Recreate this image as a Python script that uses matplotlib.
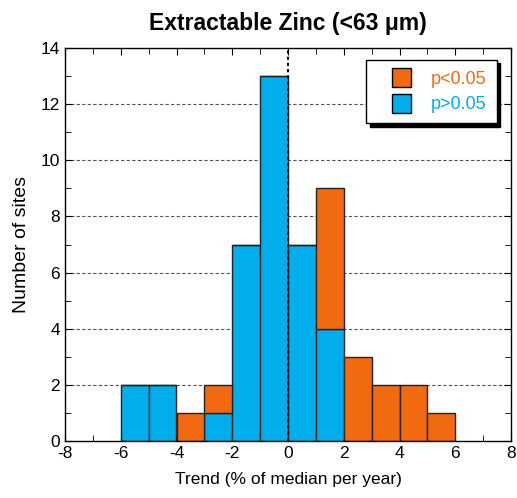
import numpy as np
import matplotlib.pyplot as plt
from matplotlib.ticker import MultipleLocator
from matplotlib.legend_handler import HandlerPatch

# bin edges left side, width 1
bin_left = [-6, -5, -4, -3, -2, -1, 0, 1, 2, 3, 4, 5]
n_notsig = [2, 2, 0, 1, 7, 13, 7, 4, 0, 0, 0, 0]
n_sig = [0, 0, 1, 1, 0, 0, 0, 5, 3, 2, 2, 1]

orange = '#F26A10'
blue = '#00AEEB'

plt.rcParams['font.family'] = ['Liberation Sans', 'DejaVu Sans']
plt.rcParams['axes.unicode_minus'] = False

fig = plt.figure(figsize=(5.17, 4.98), dpi=100)
ax = fig.add_axes([65/517, 1 - 441/498, 446/517, 393/498])

for y in range(2, 14, 2):
    ax.axhline(y, color='#555555', lw=0.8, ls=(0, (3, 2)), zorder=0)

ax.bar(bin_left, n_notsig, width=1, align='edge', color=blue,
       edgecolor='#222222', lw=1, zorder=2)
ax.bar(bin_left, n_sig, width=1, align='edge', bottom=n_notsig, color=orange,
       edgecolor='#222222', lw=1, zorder=2)
ax.axvline(0, color='black', lw=1.5, ls=(0, (1.5, 1.5)), zorder=3)

ax.set_xlim(-8, 8)
ax.set_ylim(0, 14)
ax.xaxis.set_major_locator(MultipleLocator(2))
ax.xaxis.set_minor_locator(MultipleLocator(1))
ax.yaxis.set_major_locator(MultipleLocator(2))
ax.yaxis.set_minor_locator(MultipleLocator(1))
ax.tick_params(which='both', direction='in', top=True, right=True, labelsize=12.5)
ax.tick_params(which='major', length=5)
ax.tick_params(which='minor', length=4)
for s in ax.spines.values():
    s.set_linewidth(1)

ax.set_xlabel('Trend (% of median per year)', fontsize=12.5, labelpad=8)
ax.set_ylabel('Number of sites', fontsize=14, labelpad=8)
ax.set_title('Extractable Zinc (<63 \u03bcm)', fontsize=16.5, fontweight='bold', pad=13)


def square_right(legend, orig_handle, xdescent, ydescent, width, height, fontsize):
    s = height * 1.2
    return plt.Rectangle((width - xdescent - s, -ydescent + (height - s) / 2), s, s)


leg = ax.legend(handles=[plt.Rectangle((0, 0), 1, 1, fc=orange, ec='black'),
                         plt.Rectangle((0, 0), 1, 1, fc=blue, ec='black')],
                labels=['p<0.05', 'p>0.05'], loc='upper right',
                bbox_to_anchor=(0.968, 0.970), fontsize=13, fancybox=False,
                shadow={'color': 'black', 'alpha': 1, 'ox': 2.5, 'oy': -2.5},
                edgecolor='black', framealpha=1, handlelength=1.95,
                handleheight=1.0, handletextpad=1.1, borderpad=0.55,
                labelspacing=0.4, borderaxespad=0,
                handler_map={plt.Rectangle: HandlerPatch(patch_func=square_right)})
leg.get_frame().set_linewidth(1)
leg.get_texts()[0].set_color(orange)
leg.get_texts()[1].set_color(blue)

fig.savefig('out.png', dpi=100)
